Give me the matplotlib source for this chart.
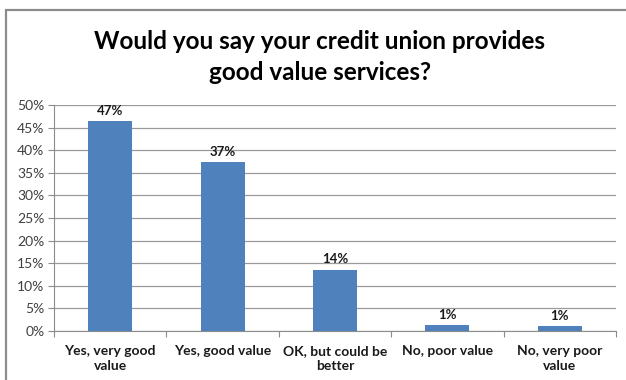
import matplotlib
matplotlib.use("Agg")
import matplotlib.pyplot as plt
from matplotlib.patches import Rectangle
from matplotlib.ticker import PercentFormatter

categories = ["Yes, very good\nvalue", "Yes, good value", "OK, but could be\nbetter", "No, poor value", "No, very poor\nvalue"]
values = [46.5, 37.4, 13.6, 1.3, 1.0]
labels = ["47%", "37%", "14%", "1%", "1%"]
yticks = [0, 5, 10, 15, 20, 25, 30, 35, 40, 45, 50]

W, H = 626, 380
fig = plt.figure(figsize=(W/100, H/100), dpi=100)
plt.rcParams['font.family'] = ['Lato', 'DejaVu Sans']

# outer border (top and left visible)
fig.patches.append(Rectangle((6/W, -0.05), 1.2, (H-10)/H + 0.05, transform=fig.transFigure,
                             fill=False, edgecolor='#8c8c8c', linewidth=1.6))

ax = fig.add_axes([54/W, 1-331/H, (616-54)/W, (331-105)/H])
x = list(range(len(categories)))
ax.bar(x, values, width=0.39, color='#4F81BD', zorder=3)
ax.set_xlim(-0.5, len(categories)-0.5)
ax.set_ylim(0, 50)
ax.set_yticks(yticks)
ax.yaxis.set_major_formatter(PercentFormatter(decimals=0))
ax.grid(axis='y', color='#9a9a9a', linewidth=0.9, zorder=0)
for s in ['top', 'right']:
    ax.spines[s].set_visible(False)
for s in ['left', 'bottom']:
    ax.spines[s].set_color('#8c8c8c')
ax.tick_params(axis='y', length=4, color='#8c8c8c', labelsize=10, labelcolor='#404040', pad=3)
ax.set_xticks([i + 0.5 for i in range(-1, len(categories))], minor=False)
ax.set_xticklabels([])
ax.tick_params(axis='x', which='major', length=4, color='#8c8c8c')
ax.set_xticks(x, minor=True)
ax.set_xticklabels(categories, minor=True, fontsize=10, fontweight='bold', color='#1a1a1a', linespacing=1.3)
ax.tick_params(axis='x', which='minor', length=0, pad=10)
for xi, v, lab in zip(x, values, labels):
    ax.annotate(lab, (xi, v), xytext=(0, 3), textcoords='offset points', ha='center', va='bottom',
                fontsize=9.5, fontweight='bold', color='#1a1a1a')

fig.text(320/W, 1-57/H, "Would you say your credit union provides\ngood value services?", ha='center', va='center',
         fontsize=17.5, fontweight='bold', color='#000000', linespacing=1.4)

fig.savefig("out.png", dpi=100)
